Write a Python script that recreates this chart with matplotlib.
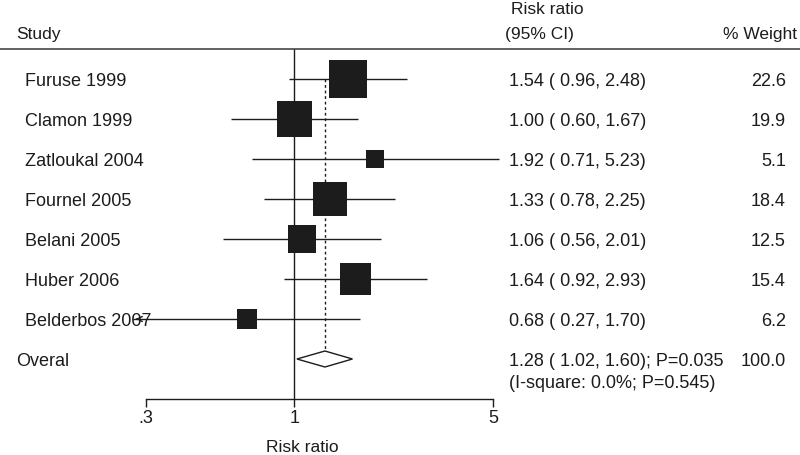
import matplotlib.pyplot as plt
import matplotlib.transforms as mtransforms
import numpy as np

plt.rcParams['font.family'] = ['Liberation Sans', 'DejaVu Sans']

# data
studies = ['Furuse 1999', 'Clamon 1999', 'Zatloukal 2004', 'Fournel 2005',
           'Belani 2005', 'Huber 2006', 'Belderbos 2007']
rr = [1.54, 1.00, 1.92, 1.33, 1.06, 1.64, 0.68]
ci_low = [0.96, 0.60, 0.71, 0.78, 0.56, 0.92, 0.27]
ci_high = [2.48, 1.67, 5.23, 2.25, 2.01, 2.93, 1.70]
weights = [22.6, 19.9, 5.1, 18.4, 12.5, 15.4, 6.2]
overall_rr, overall_low, overall_high = 1.28, 1.02, 1.60
overall_weight = 100.0
overall_p = 0.035
i_square, het_p = 0.0, 0.545
axis_ticks = [0.3, 1, 5]
axis_ticklabels = ['.3', '1', '5']

W, H = 800, 456
px_per_ln = 347 / np.log(5 / 0.3)   # .3 at px 146, 5 at px 493
x_lo = 0.3 * np.exp(-146 / px_per_ln)
x_hi = 5 * np.exp((W - 493) / px_per_ln)

fig = plt.figure(figsize=(W / 100, H / 100), dpi=100)
ax = fig.add_axes([0, 0, 1, 1])
ax.set_xscale('log')
ax.set_xlim(x_lo, x_hi)
# row i sits at pixel 80 + 40*i
ax.set_ylim((H - 80) / 40, -2)

ink = '#1c1c1c'
fs = 13
fs_head = 12.5
lw = 1.0
dy = 0.05  # small nudge so text sits on the row line
blend = mtransforms.blended_transform_factory(ax.transAxes, ax.transData)

rows = np.arange(len(studies))
overall_row = len(studies)
axis_row = overall_row + 1
header_row = -0.75

# axis
for side in ['top', 'left', 'right']:
    ax.spines[side].set_visible(False)
ax.yaxis.set_visible(False)
ax.spines['bottom'].set_position(('data', axis_row))
ax.spines['bottom'].set_bounds(axis_ticks[0], axis_ticks[-1])
ax.spines['bottom'].set_color(ink)
ax.spines['bottom'].set_linewidth(lw)
ax.set_xticks(axis_ticks)
ax.set_xticklabels(axis_ticklabels, fontsize=fs)
ax.xaxis.set_minor_locator(plt.NullLocator())
ax.tick_params(axis='x', direction='out', length=6, width=lw, color=ink,
               pad=1, labelcolor=ink)
ax.patch.set_visible(False)

# header
ax.axhline(header_row, color='#555555', lw=1.3)
ax.text(16 / W, -1.175 + dy, 'Study', transform=blend, fontsize=fs_head, va='center',
        color=ink)
ax.text(511 / W, -1.825 + dy, 'Risk ratio', transform=blend, fontsize=fs_head,
        va='center', color=ink)
ax.text(505 / W, -1.175 + dy, '(95% CI)', transform=blend, fontsize=fs_head,
        va='center', color=ink)
ax.text(797 / W, -1.175 + dy, '% Weight', transform=blend, fontsize=fs_head,
        va='center', ha='right', color=ink)

# reference lines
ax.vlines(1, header_row, axis_row, color=ink, lw=lw)
ax.vlines(overall_rr, 0, overall_row, color=ink, lw=lw, linestyles=(0, (2, 2)))

# study rows
ax.hlines(rows, ci_low, ci_high, color=ink, lw=lw, zorder=3)
for i, lo in enumerate(ci_low):
    if lo < axis_ticks[0]:
        ax.annotate('', xy=(lo, rows[i]), xytext=(lo * 1.06, rows[i]),
                    arrowprops=dict(arrowstyle='->', lw=lw, color=ink,
                                    mutation_scale=9), zorder=3)
side_pt = 38 * np.sqrt(np.array(weights) / 22.6) * 0.72
ax.scatter(rr, rows, marker='s', s=side_pt ** 2, color=ink, linewidths=0, zorder=4)

for i, name in enumerate(studies):
    ax.text(25 / W, rows[i] + dy, name, transform=blend, fontsize=fs, va='center',
            color=ink)
    ax.text(509 / W, rows[i] + dy, f'{rr[i]:.2f} ({ci_low[i]:5.2f}, {ci_high[i]:.2f})',
            transform=blend, fontsize=fs, va='center', color=ink)
    ax.text(786 / W, rows[i] + dy, f'{weights[i]:.1f}', transform=blend, fontsize=fs,
            va='center', ha='right', color=ink)

# overall
dh = 0.2
ax.fill([overall_low, overall_rr, overall_high, overall_rr],
        [overall_row, overall_row - dh, overall_row, overall_row + dh],
        facecolor='white', edgecolor=ink, lw=lw, zorder=4)
ax.text(16 / W, overall_row + dy, 'Overal', transform=blend, fontsize=fs, va='center',
        color=ink)
ax.text(509 / W, overall_row + dy,
        f'{overall_rr:.2f} ({overall_low:5.2f}, {overall_high:.2f}); P={overall_p:.3f}',
        transform=blend, fontsize=fs, va='center', color=ink)
ax.text(786 / W, overall_row + dy, f'{overall_weight:.1f}', transform=blend,
        fontsize=fs, va='center', ha='right', color=ink)
ax.text(509 / W, overall_row + 0.55 + dy, f'(I-square: {i_square:.1f}%; P={het_p:.3f})',
        transform=blend, fontsize=fs, va='center', color=ink)

ax.text(302 / W, axis_row + 1.2, 'Risk ratio', transform=blend, fontsize=fs_head,
        va='center', ha='center', color=ink)

fig.savefig('out.png', dpi=100)
